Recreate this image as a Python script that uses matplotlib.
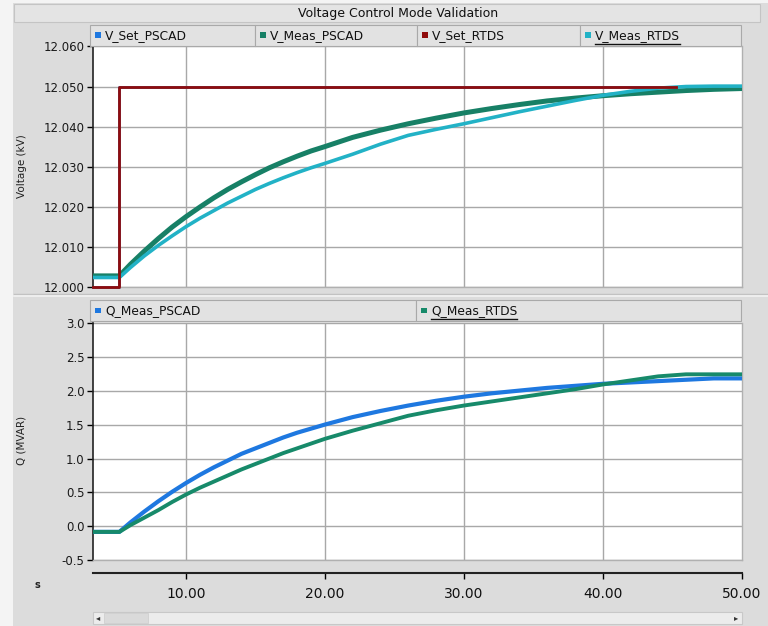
import matplotlib
matplotlib.use("Agg")
import matplotlib.pyplot as plt
from matplotlib.patches import Rectangle
from matplotlib.lines import Line2D

W, H = 768, 626

# Datos (tiempo en s)
t_set = [3.3, 5.2, 5.2, 45.3]
v_set_rtds = [12.000, 12.000, 12.050, 12.050]
v_set_pscad = [12.000, 12.000, 12.050, 12.050]

t_meas = [3.3, 5.2, 6, 7, 8, 9, 10, 11, 12, 13, 14, 15, 16, 17, 18, 19, 20,
          22, 24, 26, 28, 30, 32, 34, 36, 38, 40, 42, 44, 46, 48, 50]
v_meas_pscad = [12.0027, 12.0027, 12.0056, 12.0089, 12.0120, 12.0149, 12.0175, 12.0199,
                12.0222, 12.0243, 12.0262, 12.0280, 12.0297, 12.0312, 12.0326, 12.0339,
                12.0350, 12.0373, 12.0391, 12.0407, 12.0421, 12.0434, 12.0445, 12.0455,
                12.0464, 12.0471, 12.0477, 12.0482, 12.0486, 12.0490, 12.0493, 12.0495]
v_meas_rtds = [12.0023, 12.0023, 12.0048, 12.0077, 12.0103, 12.0127, 12.0150, 12.0171,
               12.0190, 12.0209, 12.0226, 12.0243, 12.0258, 12.0272, 12.0285, 12.0297,
               12.0308, 12.0331, 12.0356, 12.0378, 12.0393, 12.0407, 12.0422, 12.0437,
               12.0451, 12.0465, 12.0478, 12.0488, 12.0496, 12.0500, 12.0501, 12.0501]

t_q = t_meas
q_meas_pscad = [-0.08, -0.08, 0.06, 0.22, 0.37, 0.51, 0.64, 0.76, 0.87, 0.97, 1.07, 1.15,
                1.23, 1.31, 1.38, 1.44, 1.50, 1.61, 1.70, 1.78, 1.85, 1.91, 1.96, 2.00,
                2.04, 2.07, 2.10, 2.12, 2.14, 2.16, 2.18, 2.18]
q_meas_rtds = [-0.08, -0.08, 0.02, 0.13, 0.24, 0.36, 0.47, 0.57, 0.66, 0.75, 0.84, 0.92,
               1.00, 1.08, 1.15, 1.22, 1.29, 1.41, 1.52, 1.63, 1.71, 1.78, 1.84, 1.90,
               1.96, 2.02, 2.09, 2.15, 2.21, 2.24, 2.24, 2.24]

v_ticks = [12.000, 12.010, 12.020, 12.030, 12.040, 12.050, 12.060]
q_ticks = [-0.5, 0.0, 0.5, 1.0, 1.5, 2.0, 2.5, 3.0]
x_ticks = [10, 20, 30, 40, 50]

top_series = ["V_Set_PSCAD", "V_Meas_PSCAD", "V_Set_RTDS", "V_Meas_RTDS"]
top_colors = ["#1e78e0", "#178066", "#900c0c", "#22b2c6"]
bot_series = ["Q_Meas_PSCAD", "Q_Meas_RTDS"]
bot_colors = ["#1e78e0", "#178a6a"]

bg = "#dcdcdc"
grid_c = "#a8a8a8"


def fx(px):
    return px / W


def fy(py):
    return 1 - py / H


def rect_px(x0, y0, x1, y1, **kw):
    return Rectangle((fx(x0), fy(y1)), fx(x1) - fx(x0), fy(y0) - fy(y1),
                     transform=fig.transFigure, **kw)


fig = plt.figure(figsize=(W / 100, H / 100), dpi=100, facecolor="#f4f4f4")
fig.patches.append(rect_px(13, 3, W, H, facecolor=bg, edgecolor="none", zorder=-10))

# barra de titulo
fig.patches.append(rect_px(14, 4, 760, 22, facecolor="#e4e4e4", edgecolor="#c4c4c4", lw=0.8))
fig.text(fx(398), fy(13), "Voltage Control Mode Validation", ha="center", va="center",
         fontsize=9, color="#111111")

# separador entre paneles
fig.lines.append(Line2D([fx(14), fx(W)], [fy(294), fy(294)], transform=fig.transFigure,
                        color="#c2c2c2", lw=1))
fig.lines.append(Line2D([fx(14), fx(W)], [fy(296), fy(296)], transform=fig.transFigure,
                        color="#f2f2f2", lw=1.2))

x_left, x_right = 93, 741.5
xlim = (3.3, 50)


def make_axes(top, bottom):
    ax = fig.add_axes([fx(x_left), fy(bottom), fx(x_right) - fx(x_left), fy(top) - fy(bottom)])
    ax.set_facecolor("white")
    ax.set_xlim(*xlim)
    ax.set_xticks(x_ticks[:-1])
    ax.tick_params(axis="x", length=0, labelbottom=False)
    ax.grid(True, color=grid_c, lw=1)
    ax.set_axisbelow(True)
    ax.spines["top"].set_visible(False)
    for s in ["bottom", "right"]:
        ax.spines[s].set_color("#b0b0b0")
        ax.spines[s].set_linewidth(1)
    ax.spines["left"].set_color("#222222")
    ax.spines["left"].set_linewidth(1.2)
    ax.tick_params(axis="y", direction="out", length=4, width=1, labelsize=8.5,
                   labelcolor="#1a1a1a", pad=2)
    return ax


ax1 = make_axes(46.5, 286.7)
ax1.set_ylim(12.000, 12.060)
ax1.set_yticks(v_ticks)
ax1.set_yticklabels([f"{v:.3f}" for v in v_ticks])
ax1.plot(t_set, v_set_pscad, color=top_colors[0], lw=2, clip_on=False, zorder=2)
ax1.plot(t_meas, v_meas_pscad, color=top_colors[1], lw=3.6, zorder=3)
ax1.plot(t_meas, v_meas_rtds, color=top_colors[3], lw=2.6, zorder=4)
ax1.plot(t_set, v_set_rtds, color=top_colors[2], lw=2, clip_on=False, zorder=5)
fig.text(fx(22), fy(166), "Voltage (kV)", rotation=90, ha="center", va="center",
         fontsize=7.5, color="#222222")

ax2 = make_axes(322.7, 560.4)
ax2.set_ylim(-0.5, 3.0)
ax2.set_yticks(q_ticks)
ax2.set_yticklabels([f"{v:.1f}" for v in q_ticks])
ax2.plot(t_q, q_meas_pscad, color=bot_colors[0], lw=3, zorder=3)
ax2.plot(t_q, q_meas_rtds, color=bot_colors[1], lw=2.8, zorder=4)
fig.text(fx(22), fy(440), "Q (MVAR)", rotation=90, ha="center", va="center",
         fontsize=7.5, color="#222222")

# eje x comun
xa = fig.add_axes([fx(x_left), fy(573), fx(x_right) - fx(x_left), 0.0001])
xa.set_xlim(*xlim)
xa.set_facecolor("none")
for s in ["top", "left", "right"]:
    xa.spines[s].set_visible(False)
xa.spines["bottom"].set_color("#222222")
xa.spines["bottom"].set_linewidth(1.5)
xa.set_yticks([])
xa.set_xticks(x_ticks)
xa.set_xticklabels([f"{v:.2f}" for v in x_ticks])
xa.tick_params(axis="x", direction="out", length=4, width=1, labelsize=10,
               labelcolor="#111111", pad=6)
fig.text(fx(37), fy(585), "s", ha="center", va="center", fontsize=7, fontweight="bold",
         color="#222222")

# barra de desplazamiento
fig.patches.append(rect_px(93, 612, 742, 624, facecolor="#ececec", edgecolor="#c8c8c8", lw=0.8))
fig.patches.append(rect_px(104, 613, 148, 623, facecolor="#dadada", edgecolor="#cfcfcf", lw=0.6))
fig.text(fx(98), fy(618), "\u25c2", ha="center", va="center", fontsize=6, color="#333333")
fig.text(fx(736), fy(618), "\u25b8", ha="center", va="center", fontsize=6, color="#333333")

# barras de leyenda
renderer = fig.canvas.get_renderer()


def legend_bar(cells, names, colors, y0, y1, underline):
    for (c0, c1), name, col in zip(cells, names, colors):
        fig.patches.append(rect_px(c0, y0, c1, y1, facecolor="#e2e2e2", edgecolor="#a9a9a9", lw=0.8))
        ym = (y0 + y1) / 2
        fig.patches.append(rect_px(c0 + 5, ym - 3, c0 + 11, ym + 2, facecolor=col, edgecolor="none"))
        txt = fig.text(fx(c0 + 15), fy(ym), name, ha="left", va="center", fontsize=8.8,
                       color="#111111")
        if name in underline:
            bb = txt.get_window_extent(renderer)
            fig.lines.append(Line2D([bb.x0 / W, bb.x1 / W], [fy(ym + 8), fy(ym + 8)],
                                    transform=fig.transFigure, color="#111111", lw=1))


legend_bar([(90, 255), (255, 417), (417, 580), (580, 741)], top_series, top_colors,
           25, 46, ["V_Meas_RTDS"])
legend_bar([(90, 416), (416, 741)], bot_series, bot_colors, 300, 321, ["Q_Meas_RTDS"])

fig.savefig("out.png", dpi=100, facecolor=fig.get_facecolor())
